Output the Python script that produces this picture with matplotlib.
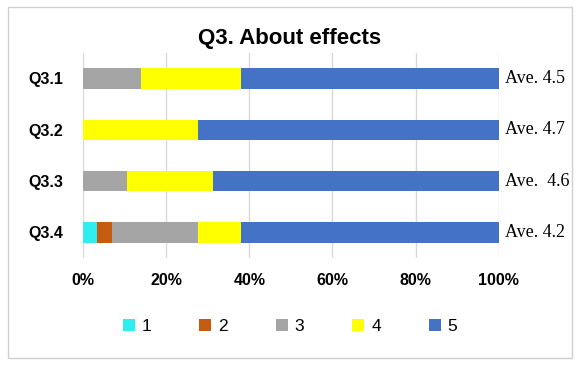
import matplotlib.pyplot as plt
from matplotlib.patches import Rectangle
import numpy as np

# answers out of 29 respondents, shares of each score 1..5
questions = ['Q3.1', 'Q3.2', 'Q3.3', 'Q3.4']
score_labels = ['1', '2', '3', '4', '5']
score1 = [0.0, 0.0, 0.0, 3.4]
score2 = [0.0, 0.0, 0.0, 3.5]
score3 = [14.0, 0.0, 10.6, 20.7]
score4 = [24.1, 27.6, 20.7, 10.4]
score5 = [61.9, 72.4, 68.7, 62.0]
averages = ['Ave. 4.5', 'Ave. 4.7', 'Ave.  4.6', 'Ave. 4.2']
colors = ['#2EEEF0', '#C55A11', '#A5A5A5', '#FFFF00', '#4472C4']

fig = plt.figure(figsize=(5.8, 3.67), dpi=100)
fig.patches.append(Rectangle((0.014, 0.025), 0.972, 0.955, transform=fig.transFigure,
                             fill=False, edgecolor='#D0D0D0', linewidth=1))
ax = fig.add_axes([0.143, 0.297, 0.717, 0.559])

y = np.arange(len(questions))
left = np.zeros(len(questions))
for vals, lab, col in zip([score1, score2, score3, score4, score5], score_labels, colors):
    ax.barh(y, vals, left=left, height=0.4, color=col, label=lab, zorder=3)
    left += np.array(vals)

for yi, txt in zip(y, averages):
    ax.text(101.5, yi, txt, va='center', ha='left', fontsize=13,
            family='Liberation Serif')

ax.set_xlim(0, 100)
ax.set_ylim(3.5, -0.5)
ax.set_xticks([0, 20, 40, 60, 80, 100])
ax.set_xticklabels(['0%', '20%', '40%', '60%', '80%', '100%'],
                   fontsize=11.5, fontweight='bold', family='Liberation Sans')
ax.set_yticks(y)
ax.set_yticklabels(questions, fontsize=11.5, fontweight='bold', family='Liberation Sans')
ax.tick_params(length=0, pad=11)
ax.tick_params(axis='y', pad=14)
ax.grid(axis='x', color='#D9D9D9', linewidth=1, zorder=0)
for s in ax.spines.values():
    s.set_visible(False)

fig.text(0.5, 0.895, 'Q3. About effects', ha='center', va='center',
         fontsize=16, fontweight='bold', family='Liberation Sans')

fig.legend(loc='center', bbox_to_anchor=(0.5, 0.11), ncol=5, frameon=False,
           handlelength=0.7, handleheight=0.7, handletextpad=0.4,
           columnspacing=2.75, prop={'family': 'Liberation Sans', 'size': 12.5})

fig.savefig('out.png', dpi=100)
